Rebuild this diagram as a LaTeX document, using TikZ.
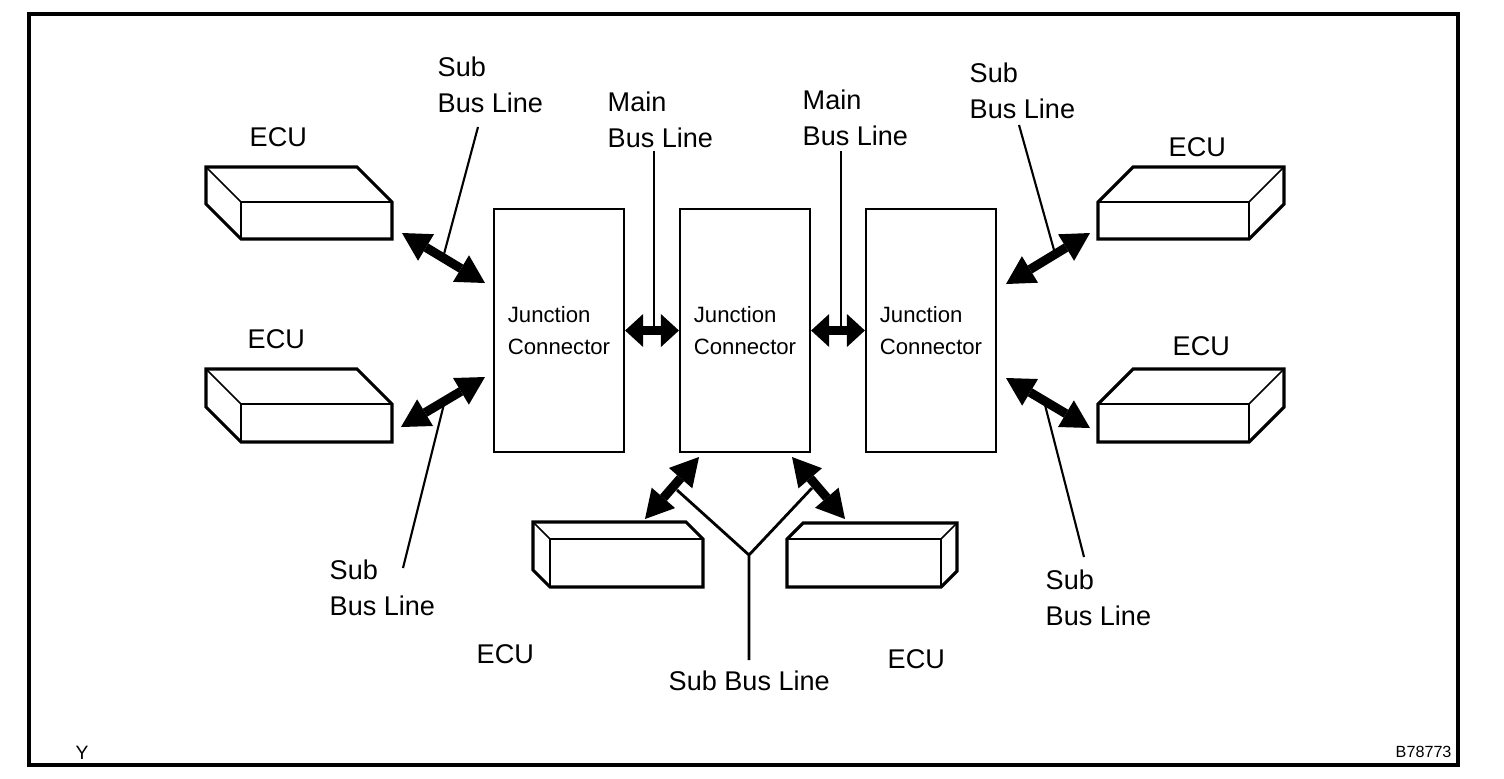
\documentclass[tikz,border=0pt]{standalone}
\usepackage{fontspec}
\setmainfont{Liberation Sans}
\usepackage{tkz-euclide}
\usetikzlibrary{arrows.meta}

% ECU block, depth to the upper left: front corner (#1,#2), size #3 x #4, depth #5
\newcommand{\ecuLeft}[5]{%
  \draw[ecuedge] (#1,#2) rectangle ++(#3,#4) (#1,#2) -- ++(-#5,-#5);
  \draw[eculine] (#1,#2+#4) -- ++(-#5,-#5) -- ++(0,-#4) -- ++(#3,0) -- ++(#5,#5) -- ++(0,#4) -- cycle;}
% ECU block, depth to the upper right
\newcommand{\ecuRight}[5]{%
  \draw[ecuedge] (#1,#2) rectangle ++(#3,#4) (#1+#3,#2) -- ++(#5,-#5);
  \draw[eculine] (#1,#2+#4) -- ++(0,-#4) -- ++(#5,-#5) -- ++(#3,0) -- ++(0,#4) -- ++(-#5,#5) -- cycle;}

\begin{document}
\begin{tikzpicture}[x=0.01cm,y=-0.01cm,
  frame/.style={line width=1.15pt},
  eculine/.style={line width=0.9pt},
  ecuedge/.style={line width=0.45pt},
  jcbox/.style={draw,line width=0.6pt,minimum width=1.3cm,minimum height=2.43cm,inner sep=0pt,align=left,font=\fontsize{6.3}{9.1}\selectfont},
  lbl/.style={anchor=base west,inner sep=0pt,align=left,font=\fontsize{7.7}{10.2}\selectfont},
  leader/.style={line width=0.6pt},
  busarrow/.style={{Triangle[length=2.8mm,width=3.1mm,line width=0pt]}-{Triangle[length=2.8mm,width=3.1mm,line width=0pt]},line width=2.6pt},
  mainarrow/.style={{Triangle[length=1.8mm,width=3.3mm,line width=0pt]}-{Triangle[length=1.8mm,width=3.3mm,line width=0pt]},line width=2.8pt}]
\useasboundingbox (0,0) rectangle (1504,778);

\tkzDefPoints{402/233/a1,485/283/a2,401/427/b1,485/377/b2,1006/284/c1,1090/233/c2,1006/378/d1,1090/428/d2}
\tkzDefPoints{645/519/e1,699/457/e2,792/457/f1,845/519/f2}
\tkzDefPoints{478/127/s1,444/254/s2,444/404/t1,403/568/t2,654/151/m1,654/332/m2,841/151/n1,841/332/n2}
\tkzDefPoints{1019/125/u1,1054/250/u2,1045/405/v1,1084/557/v2,677/490/y1,812/488/y2,749/555/y0,749/660/y3}

% ECU blocks
\ecuLeft{241}{202}{151}{37}{35}
\ecuLeft{241}{404}{151}{38}{35}
\ecuRight{1098}{202}{151}{37}{35}
\ecuRight{1098}{404}{151}{38}{35}
\ecuLeft{550}{539}{153}{48}{17}
\ecuRight{787}{539}{154}{48}{16}

% junction connectors
\node[jcbox] (jc1) at (559,330.5) {Junction\\Connector};
\node[jcbox] (jc2) at (745,330.5) {Junction\\Connector};
\node[jcbox] (jc3) at (931,330.5) {Junction\\Connector};

% labels (base = last line)
\node[lbl] (subTL) at (437,112) {Sub\\Bus Line};
\node[lbl] (ecuTL) at (249,146) {ECU};
\node[lbl] (mainA) at (607,147) {Main\\Bus Line};
\node[lbl] (mainB) at (802,145) {Main\\Bus Line};
\node[lbl] (subTR) at (969,118) {Sub\\Bus Line};
\node[lbl] (ecuTR) at (1168,156) {ECU};
\node[lbl] (ecuML) at (247,348) {ECU};
\node[lbl] (ecuMR) at (1172,355) {ECU};
\node[lbl] (subBL) at (329,615) {Sub\\Bus Line};
\node[lbl] (ecuBL) at (476,663) {ECU};
\node[lbl] (subB) at (668,690) {Sub Bus Line};
\node[lbl] (ecuBR) at (887,668) {ECU};
\node[lbl] (subBR) at (1045,625) {Sub\\Bus Line};
\node[anchor=base west,inner sep=0pt,font=\fontsize{5.5}{6}\selectfont] (view) at (75,759) {Y};
\node[anchor=base west,inner sep=0pt,font=\fontsize{4.6}{5}\selectfont] (code) at (1395,757) {B78773};

% leaders
\draw[leader] (s1) -- (s2);
\draw[leader] (t1) -- (t2);
\draw[leader] (m1) -- (m2);
\draw[leader] (n1) -- (n2);
\draw[leader] (u1) -- (u2);
\draw[leader] (v1) -- (v2);
\draw[leader,line width=0.8pt] (y1) -- (y0) -- (y2) (y0) -- (y3);

% bus arrows
\draw[busarrow] (a1) -- (a2);
\draw[busarrow] (b1) -- (b2);
\draw[busarrow] (c1) -- (c2);
\draw[busarrow] (d1) -- (d2);
\draw[busarrow] (e1) -- (e2);
\draw[busarrow] (f1) -- (f2);
\draw[mainarrow] (jc1.east) -- (jc2.west);
\draw[mainarrow] (jc2.east) -- (jc3.west);

\draw[frame] (29,14) rectangle (1458,765);
\end{tikzpicture}
\end{document}
